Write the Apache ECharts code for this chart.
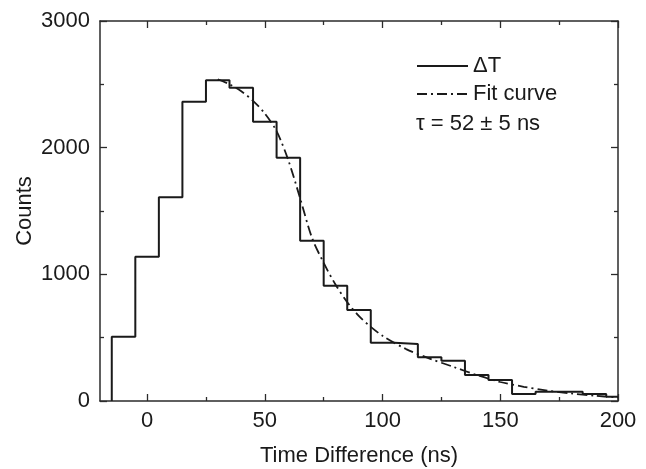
<!DOCTYPE html>
<html>
<head>
<meta charset="utf-8">
<script src="https://cdn.jsdelivr.net/npm/echarts@6/dist/echarts.min.js"></script>
<style>
html,body{margin:0;padding:0;background:#fff;}
#chart{width:646px;height:469px;}
</style>
</head>
<body>
<div id="chart"></div>
<script>
// Histogram: bin left edges (ns), last bin runs to 200
const binStarts = [-15, -5, 5, 15, 25, 35, 45, 55, 65, 75, 85, 95, 105, 115, 125, 135, 145, 155, 165, 175, 185, 195];
const binEnd = 200;
const counts = [508, 1139, 1608, 2363, 2532, 2474, 2205, 1921, 1266, 910, 718, 460, 450, 345, 318, 205, 166, 55, 74, 74, 55, 34];

// Fit curve samples
const fitX = [30, 35, 40, 45, 50, 55, 60, 65, 70, 75, 80, 85, 90, 95, 100, 110, 120, 130, 140, 150, 160, 170, 180, 190, 200];
const fitY = [2540, 2500, 2445, 2370, 2270, 2130, 1900, 1600, 1290, 1090, 920, 780, 670, 585, 515, 410, 335, 270, 205, 150, 112, 82, 60, 42, 28];

const xMajor = [0, 50, 100, 150, 200];
const xMinor = [25, 75, 125, 175];

const FONT = '"Liberation Sans", Arial, Helvetica, sans-serif';
const FS = 22;
const INK = '#1a1a1a';
const AX = '#2b2b2b';

const histData = [[binStarts[0], 0]];
binStarts.forEach((x, i) => histData.push([x, counts[i]]));
histData.push([binEnd, counts[counts.length - 1]]);
const fitData = fitX.map((x, i) => [x, fitY[i]]);

function xAx(pos, ticks, len, showLine, showLabel, extra) {
  return Object.assign({
    type: 'value', position: pos, min: -20, max: 200,
    axisLine: { show: showLine, onZero: false, lineStyle: { color: AX, width: 1.5 } },
    axisTick: { show: true, inside: true, length: len, customValues: ticks, lineStyle: { color: AX, width: 1.3 } },
    axisLabel: { show: showLabel, customValues: xMajor, fontSize: FS, color: INK, fontFamily: FONT, margin: 9 },
    splitLine: { show: false }
  }, extra || {});
}
function yAx(pos, showLabel, extra) {
  return Object.assign({
    type: 'value', position: pos, min: 0, max: 3000, interval: 1000,
    axisLine: { show: true, onZero: false, lineStyle: { color: AX, width: 1.5 } },
    axisTick: { show: true, inside: true, length: 7, lineStyle: { color: AX, width: 1.3 } },
    minorTick: { show: true, splitNumber: 2, length: 4, lineStyle: { color: AX, width: 1.3 } },
    axisLabel: { show: showLabel, fontSize: FS, color: INK, fontFamily: FONT, margin: 10, formatter: v => String(v) },
    splitLine: { show: false }, minorSplitLine: { show: false }
  }, extra || {});
}

const chart = echarts.init(document.getElementById('chart'), null, { renderer: 'canvas' });
chart.setOption({
  animation: false,
  backgroundColor: '#fff',
  grid: { left: 100, right: 28, top: 21, bottom: 68, containLabel: false, outerBoundsMode: 'none' },
  xAxis: [
    xAx('bottom', xMajor, 7, true, true, {
      name: 'Time Difference (ns)', nameLocation: 'middle', nameGap: 44, nameMoveOverlap: false,
      nameTextStyle: { fontSize: FS, color: INK, fontFamily: FONT }
    }),
    xAx('bottom', xMinor, 4, false, false),
    xAx('top', xMajor, 7, true, false),
    xAx('top', xMinor, 4, false, false)
  ],
  yAxis: [
    yAx('left', true, {
      name: 'Counts', nameLocation: 'middle', nameGap: 64, nameRotate: 90, nameMoveOverlap: false,
      nameTextStyle: { fontSize: FS, color: INK, fontFamily: FONT }
    }),
    yAx('right', false)
  ],
  legend: {
    orient: 'vertical', left: 416, top: 55, itemWidth: 51, itemHeight: 14, itemGap: 6,
    padding: 0,
    itemStyle: { opacity: 0 },
    textStyle: { fontSize: FS, color: INK, fontFamily: FONT },
    data: ['ΔT', 'Fit curve']
  },
  graphic: [{
    type: 'text', left: 416, top: 113,
    style: { text: 'τ = 52 ± 5 ns', fill: INK, font: FS + 'px ' + FONT }
  }],
  series: [
    {
      name: 'ΔT', type: 'line', step: 'end', xAxisIndex: 0, yAxisIndex: 0,
      data: histData, symbol: 'none',
      lineStyle: { color: INK, width: 2 }, itemStyle: { color: INK }
    },
    {
      name: 'Fit curve', type: 'line', xAxisIndex: 0, yAxisIndex: 0,
      data: fitData, symbol: 'none', smooth: 0.3,
      lineStyle: { color: INK, width: 1.8, type: [10, 4, 2, 4] }, itemStyle: { color: INK }
    }
  ]
});
</script>
</body>
</html>
